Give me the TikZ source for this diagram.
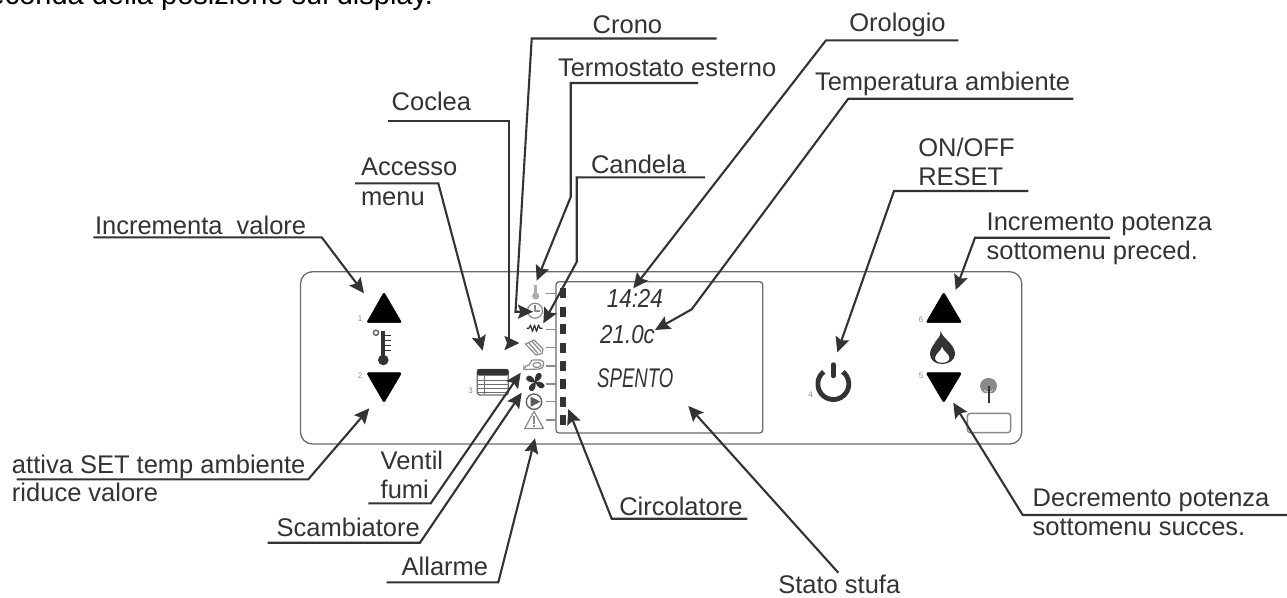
\documentclass[tikz,border=0pt]{standalone}
\usepackage{fontspec}
\setmainfont{Liberation Sans}
\usetikzlibrary{arrows.meta}
\definecolor{ink}{HTML}{333333}
\definecolor{panelgray}{HTML}{6A6A6A}
\definecolor{icongray}{HTML}{8A8A8A}
\tikzset{
  x=1pt,y=-1pt,
  lab/.style={anchor=base west,inner sep=0pt,outer sep=0pt,text=ink,font=\fontsize{25.5}{30}\selectfont},
  hdrtext/.style={anchor=base west,inner sep=0pt,text=black,font=\fontsize{29}{34}\selectfont},
  num/.style={inner sep=0pt,text=icongray,font=\fontsize{8}{9}\selectfont},
  lcd/.style={anchor=base west,inner sep=0pt,text=ink},
  leader/.style={draw=ink,line width=2.1pt,line join=miter,-{Stealth[length=15pt,width=14pt,inset=2.5pt]}},
  tri/.style={fill=black,draw=black,line width=0.5pt,rounded corners=1.5pt},
  tick/.style={draw=icongray,line width=1.1pt},
  gicon/.style={draw=icongray,line width=1.2pt},
}
\newcommand{\lcdA}{\fontsize{26}{30}\itshape\selectfont}
\newcommand{\lcdB}{\fontsize{27}{30}\itshape\selectfont}
\begin{document}
\begin{tikzpicture}
\useasboundingbox (0,0) rectangle (1287,597);
\clip (0,0) rectangle (1287,597);
\fill[white] (0,0) rectangle (1287,597);
% header
\node[hdrtext] (hdr) at (-26,5) {seconda della posizione sul display.};
% panel and display
\draw[panelgray,line width=1.3pt,rounded corners=12pt] (300.5,271.7) rectangle (1021.7,444);
\draw[panelgray,line width=1.3pt,rounded corners=3pt] (556,281.7) rectangle (762.7,433);
% segment bar
\foreach \y in {293.3,311.7,329.3,347.7,366,384,401.7,420}{
  \fill[ink] (560.2,\y-5) rectangle (566,\y+5);
}
\foreach \y in {293.3,329.3,347.7,366,384,401.7,420}{
  \draw[tick] (546,\y) -- (555.5,\y);
}
% arrow buttons
\draw[tri] (384,292.3) -- (401.7,322.7) -- (366.7,322.7) -- cycle;
\draw[tri] (384,402.7) -- (401.7,372.7) -- (366.7,372.7) -- cycle;
\draw[tri] (943.7,292.3) -- (961.7,322.7) -- (926,322.7) -- cycle;
\draw[tri] (943.7,402.7) -- (961.7,372.7) -- (926,372.7) -- cycle;
\node[num] (n1) at (360,319) {1};
\node[num] (n2) at (360,376) {2};
\node[num] (n3) at (470.7,391) {3};
\node[num] (n4) at (810.7,395) {4};
\node[num] (n5) at (921,376) {5};
\node[num] (n6) at (921,320) {6};
% thermometer
\draw[ink,line width=4pt] (383.3,330.5) -- (383.3,358);
\fill[ink] (383.3,360) circle (5.3);
\foreach \y in {335,340,345,350}{\draw[ink,line width=1pt] (385,\y) -- (391,\y);}
\draw[icongray!70!black,line width=1.4pt] (376,332.7) circle (2.6);
% menu icon
\draw[icongray!80!black,line width=1.3pt,rounded corners=2.5pt] (477.3,369.5) rectangle (508.3,395);
\fill[ink,rounded corners=2pt] (477,369) rectangle (508.6,375.5);
\foreach \y in {380.5,384.5,388.5,392}{\draw[icongray!80!black,line width=.9pt] (478,\y) -- (508,\y);}
\draw[icongray!80!black,line width=.9pt] (484,376) -- (484,394);
% power
\draw[ink,line width=4.8pt] (833.3,384) ++(-52:15.5) arc (-52:232:15.5);
\draw[ink,line width=4.4pt,line cap=round] (833.3,364.5) -- (833.3,376);
% flame
\fill[ink,even odd rule] (940.5,331) .. controls (943,339) and (955,344) .. (955,354)
  .. controls (955,360) and (949,364) .. (942,364)
  .. controls (935,364) and (930,360) .. (930,354)
  .. controls (930,348) and (934,345) .. (936,341)
  .. controls (938,338) and (941,336) .. (940.5,331) -- cycle
  (942,346.5) .. controls (943,351) and (949.5,354) .. (949.5,358)
  .. controls (949.5,361) and (946,362.8) .. (942,362.8)
  .. controls (938,362.8) and (935,361) .. (935,358)
  .. controls (935,354) and (941,351) .. (942,346.5) -- cycle;
% antenna
\fill[icongray] (980,386) .. controls (980,381) and (984,378) .. (988.7,378)
  .. controls (993,378) and (997,381) .. (997,386)
  .. controls (997,389) and (995,392) .. (993,393) -- (984,393)
  .. controls (982,392) and (980,389) .. (980,386) -- cycle;
\draw[icongray!40,line width=.9pt] (984,390) arc (140:40:6);
\draw[ink,line width=2pt] (988.7,385.5) -- (988.7,403);
\draw[icongray,line width=1.5pt,rounded corners=3pt] (967.3,413.3) rectangle (1010.7,432.7);
% display icons
\draw[icongray!70,line width=3pt] (535.7,285) -- (535.7,295);
\fill[icongray!70] (535.7,296) circle (3.6);
\draw[gicon] (535,310.7) circle (7.5);
\draw[gicon] (535,305) -- (535,311) -- (540,311);
\draw[ink,line width=1.2pt,line join=round] (526.7,328.3) -- (529,328.3) -- (530.5,325) -- (532.5,331.5) -- (534.5,325) -- (536.5,331.5) -- (538.5,325) -- (540,328.3) -- (542.7,328.3);
\draw[gicon,line join=round] (525.5,344) -- (534,340) -- (543,349) -- (542,353.5) -- (536,355) -- cycle;
\draw[gicon] (529,343) -- (538,353.5) (532,341.5) -- (541,351.5);
\draw[gicon,rounded corners=2pt] (524,367) -- (531,364) -- (531,360) -- (543,360) -- (544,366) -- (541,369) -- (524,369.5) -- cycle;
\draw[gicon] (537,365) ellipse (4 and 2.5);
% fan
\fill[ink] (535.3,382) circle (1.8);
\foreach \a in {45,135,225,315}{
  \fill[ink,rotate around={\a:(535.3,382)}] (535.3,382) .. controls (538,377) and (544,376) .. (545,379) .. controls (546,383) and (541,385) .. (535.3,382) -- cycle;
}
% pump
\draw[ink!80,line width=1.3pt] (534,401.7) circle (7.7);
\fill[ink!80] (530.5,396.5) -- (540.5,401.7) -- (530.5,406.9) -- cycle;
% warning
\draw[gicon,line join=round] (534,411.5) -- (543.5,428.5) -- (524.7,428.5) -- cycle;
\draw[gicon] (534,416) -- (534,423.5) (534,425) -- (534,427);
% lcd texts
\node[lcd] (lcdtime) at (606.7,307) {\lcdA\scalebox{.86}[1]{14:24}};
\node[lcd] (lcdtemp) at (600,343) {\lcdA\scalebox{.86}[1]{21.0c}};
\node[lcd] (lcdstate) at (597,387) {\lcdB\scalebox{.69}[1]{SPENTO}};
% labels
\node[lab] (crono) at (592.7,33) {Crono};
\node[lab] (termo) at (558,76.7) {Termostato esterno};
\node[lab] (coclea) at (391.7,110) {Coclea};
\node[lab] (acc1) at (361,175.7) {Accesso};
\node[lab] (acc2) at (361,205) {menu};
\node[lab] (cand) at (591,173.3) {Candela};
\node[lab] (orol) at (849.3,31.7) {Orologio};
\node[lab] (tamb) at (815,90) {Temperatura ambiente};
\node[lab] (onoff) at (918.3,156) {ON/OFF};
\node[lab] (reset) at (918.3,185) {RESET};
\node[lab] (incp1) at (986.7,230) {Incremento potenza};
\node[lab] (incp2) at (986.7,259.3) {sottomenu preced.};
\node[lab] (incv) at (95,234) {Incrementa\ \ valore};
\node[lab] (att1) at (12,473.3) {attiva SET temp ambiente};
\node[lab] (att2) at (12,501.7) {riduce valore};
\node[lab] (ven1) at (380.7,469.3) {Ventil};
\node[lab] (ven2) at (380.7,498.3) {fumi};
\node[lab] (scam) at (276.7,536) {Scambiatore};
\node[lab] (allr) at (401.7,575.7) {Allarme};
\node[lab] (circ) at (619.3,515) {Circolatore};
\node[lab] (stat) at (778.3,593.3) {Stato stufa};
\node[lab] (dec1) at (1032.7,506) {Decremento potenza};
\node[lab] (dec2) at (1032.7,535) {sottomenu succes.};
% connector points
\coordinate (crA) at (716.7,38.5); \coordinate (crB) at (531.7,38.5); \coordinate (crC) at (515.5,311.7); \coordinate (crT) at (533,311.7);
\coordinate (coA) at (388,120.7); \coordinate (coB) at (509.3,120.7); \coordinate (coC) at (509.3,343); \coordinate (coT) at (519.5,343);
\coordinate (teA) at (698,83); \coordinate (teB) at (570.7,83); \coordinate (teC) at (570.7,197); \coordinate (teT) at (536.7,280.7);
\coordinate (caA) at (705,177.3); \coordinate (caB) at (576.7,177.3); \coordinate (caC) at (576.7,262); \coordinate (caT) at (543.3,323.3);
\coordinate (acA) at (355,183.3); \coordinate (acB) at (438.3,183.3); \coordinate (acT) at (482.7,350.7);
\coordinate (ivA) at (93.3,237.3); \coordinate (ivB) at (321.7,237.3); \coordinate (ivT) at (364,293.3);
\coordinate (atA) at (16.7,479.3); \coordinate (atB) at (308.3,479.3); \coordinate (atT) at (369.3,408.3);
\coordinate (veA) at (368.3,503.3); \coordinate (veB) at (430.7,503.3); \coordinate (veT) at (520.7,372.7);
\coordinate (scA) at (267.7,542.7); \coordinate (scB) at (420,542.7); \coordinate (scT) at (521.7,392.7);
\coordinate (alA) at (386.7,582.3); \coordinate (alB) at (498.3,582.3); \coordinate (alT) at (535,438.3);
\coordinate (ciA) at (747.3,518.7); \coordinate (ciB) at (611.7,518.7); \coordinate (ciT) at (568.3,409);
\coordinate (stA) at (838.3,572.7); \coordinate (stT) at (688.3,406);
\coordinate (orA) at (958.3,40.3); \coordinate (orB) at (826,40.3); \coordinate (orT) at (633.3,288.3);
\coordinate (taA) at (1073.3,98.7); \coordinate (taB) at (848.3,98.7); \coordinate (taC) at (691.7,309.3); \coordinate (taT) at (655,330);
\coordinate (onA) at (1028.3,191); \coordinate (onB) at (894,191); \coordinate (onT) at (837.3,352.3);
\coordinate (ipA) at (1110,237.7); \coordinate (ipB) at (975,237.7); \coordinate (ipT) at (955.7,290);
\coordinate (dpA) at (1287,515); \coordinate (dpB) at (1022.7,515); \coordinate (dpT) at (953.3,402.7);
% connectors
\draw[leader] (crA) -- (crB) -- (crC) -- (crT);
\draw[leader] (coA) -- (coB) -- (coC) -- (coT);
\draw[leader] (teA) -- (teB) -- (teC) -- (teT);
\draw[leader] (caA) -- (caB) -- (caC) -- (caT);
\draw[leader] (acA) -- (acB) -- (acT);
\draw[leader] (ivA) -- (ivB) -- (ivT);
\draw[leader] (atA) -- (atB) -- (atT);
\draw[leader] (veA) -- (veB) -- (veT);
\draw[leader] (scA) -- (scB) -- (scT);
\draw[leader] (alA) -- (alB) -- (alT);
\draw[leader] (ciA) -- (ciB) -- (ciT);
\draw[leader] (stA) -- (stT);
\draw[leader] (orA) -- (orB) -- (orT);
\draw[leader] (taA) -- (taB) -- (taC) -- (taT);
\draw[leader] (onA) -- (onB) -- (onT);
\draw[leader] (ipA) -- (ipB) -- (ipT);
\draw[leader] (dpA) -- (dpB) -- (dpT);
\end{tikzpicture}
\end{document}
